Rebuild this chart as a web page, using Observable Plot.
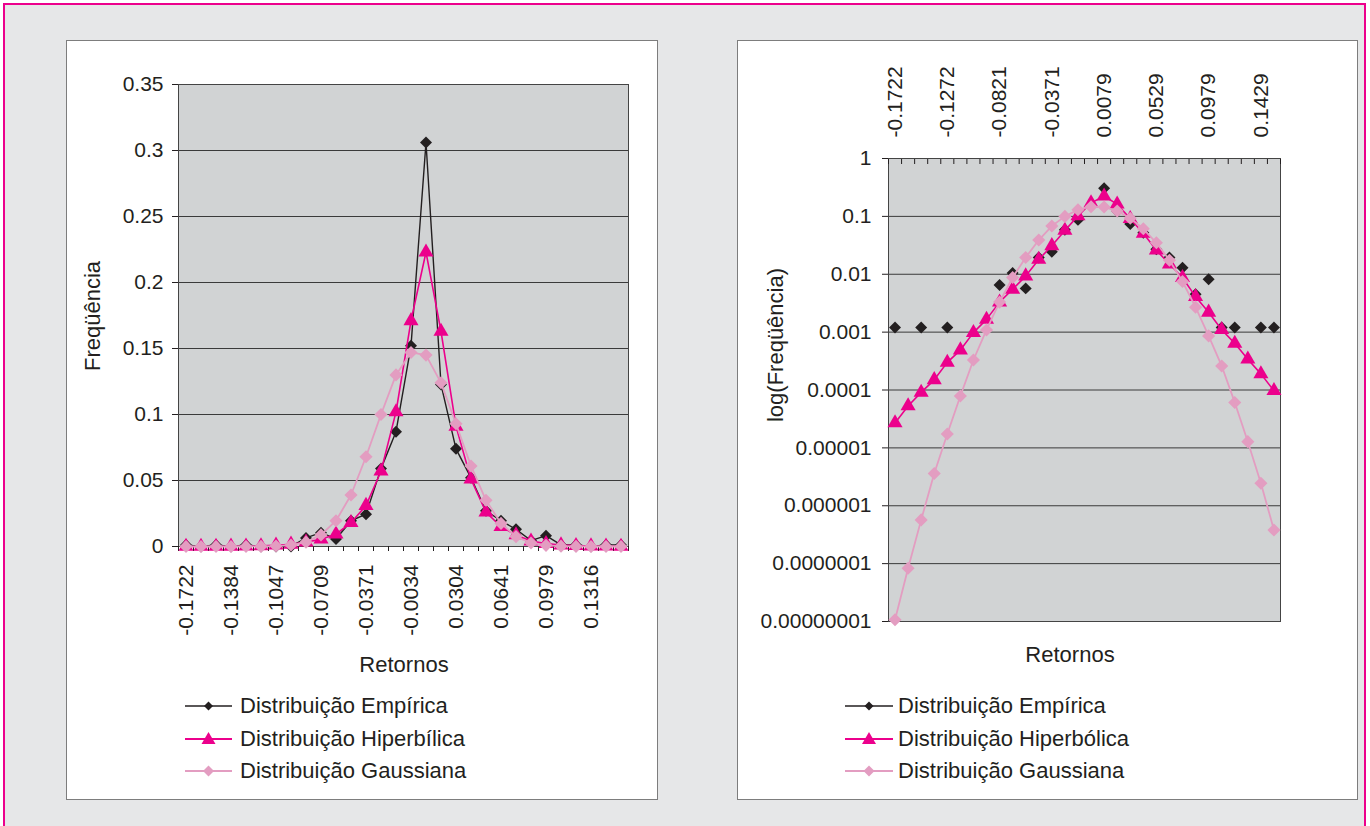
<!DOCTYPE html>
<html>
<head>
<meta charset="utf-8">
<script src="https://cdn.jsdelivr.net/npm/d3@7"></script>
<script src="https://cdn.jsdelivr.net/npm/@observablehq/plot@0.6"></script>
<style>
  body { margin: 0; background: #ffffff; font-family: "Liberation Sans", Arial, sans-serif; color: #231f20; }
  #moldura { position: absolute; left: 3px; top: 3px; width: 1363px; height: 840px; border: 2px solid #ec008c; background: #e6e7e8; box-sizing: border-box; }
  .painel { position: absolute; background: #ffffff; border: 1px solid #7d7d7d; box-sizing: border-box; }
  .grafico { position: absolute; }
  .titulo { position: absolute; font-size: 22px; white-space: nowrap; transform: translate(-50%, -50%); }
  .rot { transform: translate(-50%, -50%) rotate(-90deg); }
  .legenda { position: absolute; font-size: 22px; }
  .linha { display: flex; align-items: center; height: 32.5px; white-space: nowrap; }
</style>
</head>
<body>
<div id="moldura"></div>
<div class="painel" style="left:66px;top:40px;width:592px;height:760px"></div>
<div class="painel" style="left:737px;top:40px;width:621px;height:760px"></div>
<div id="g1" class="grafico" style="left:66px;top:40px"></div>
<div id="g2" class="grafico" style="left:737px;top:40px"></div>
<div class="titulo rot" style="left:93px;top:316px">Freqüência</div>
<div class="titulo rot" style="left:776px;top:345px">log(Freqüência)</div>
<div class="titulo" style="left:404px;top:665px">Retornos</div>
<div class="titulo" style="left:1070px;top:655px">Retornos</div>
<div id="leg1" class="legenda" style="left:185px;top:690px"></div>
<div id="leg2" class="legenda" style="left:845px;top:690px"></div>
<script>
// Categories (returns, bin centres)
const categorias = ["-0.1722","-0.1609","-0.1497","-0.1384","-0.1272","-0.1159","-0.1047","-0.0934","-0.0821","-0.0709",
  "-0.0596","-0.0484","-0.0371","-0.0259","-0.0146","-0.0034","0.0079","0.0191","0.0304","0.0416",
  "0.0529","0.0641","0.0754","0.0866","0.0979","0.1091","0.1204","0.1316","0.1429","0.1541"];

// Series values (frequencies)
const empirica = [0.0012,0,0.0012,0,0.0012,0,0,0,0.0065,0.0105,
  0.0057,0.0195,0.0245,0.059,0.087,0.152,0.306,0.1227,0.074,0.052,
  0.027,0.0195,0.013,0.0045,0.0082,0.0012,0.0012,0,0.0012,0.0012];
const hiperbolica = [2.7e-5,5.3e-5,9.1e-5,1.5e-4,3.0e-4,4.9e-4,9.8e-4,1.66e-3,3.3e-3,5.5e-3,
  9.3e-3,0.018,0.031,0.057,0.102,0.171,0.223,0.163,0.091,0.051,
  0.026,0.015,0.0087,0.0041,0.0022,0.0011,0.00064,0.00034,0.00019,9.7e-5];
const gaussiana = [1.07e-8,8.3e-8,5.7e-7,3.6e-6,1.74e-5,7.9e-5,3.3e-4,1.09e-3,3.3e-3,8.8e-3,
  0.0195,0.039,0.068,0.100,0.130,0.147,0.145,0.124,0.093,0.061,
  0.035,0.0175,0.0075,0.0027,8.6e-4,2.6e-4,6.1e-5,1.28e-5,2.45e-6,3.8e-7];

// Tick values / labels
const rotulosEsq = ["-0.1722","-0.1384","-0.1047","-0.0709","-0.0371","-0.0034","0.0304","0.0641","0.0979","0.1316"];
const rotulosDir = ["-0.1722","-0.1272","-0.0821","-0.0371","0.0079","0.0529","0.0979","0.1429"];
const ticksLin = [0, 0.05, 0.1, 0.15, 0.2, 0.25, 0.3, 0.35];
const ticksLog = [1, 0.1, 0.01, 0.001, 0.0001, 0.00001, 0.000001, 0.0000001, 0.00000001];
const rotulosLog = ["1","0.1","0.01","0.001","0.0001","0.00001","0.000001","0.0000001","0.00000001"];

// Legend
const seriesNomesEsq = ["Distribuição Empírica","Distribuição Hiperbílica","Distribuição Gaussiana"];
const seriesNomesDir = ["Distribuição Empírica","Distribuição Hiperbólica","Distribuição Gaussiana"];
const cores = ["#231f20", "#ec008c", "#e39dc1"];

const dados = categorias.map((c, i) => ({i, c, emp: empirica[i], hip: hiperbolica[i], gau: gaussiana[i]}));
const idx = new Map(categorias.map((c, i) => [c, i]));
const limites = d3.range(-0.5, categorias.length, 1);
const rotLog = new Map(ticksLog.map((t, k) => [t, rotulosLog[k]]));
const fonte = "'Liberation Sans', Arial, sans-serif";

const estilo = {background: "transparent", fontFamily: fonte, fontSize: "21px", color: "#231f20", overflow: "visible"};

function series(rows, incluiLinhaEmp) {
  const m = [];
  if (incluiLinhaEmp) m.push(Plot.line(rows, {x: "i", y: "emp", stroke: cores[0], strokeWidth: 1.4}));
  m.push(Plot.dot(rows.filter(d => incluiLinhaEmp || d.emp > 0), {x: "i", y: "emp", symbol: "diamond2", fill: cores[0], stroke: "none", r: 5.4}));
  m.push(Plot.line(rows, {x: "i", y: "hip", stroke: cores[1], strokeWidth: 1.6}));
  m.push(Plot.dot(rows, {x: "i", y: "hip", symbol: "triangle", fill: cores[1], stroke: "none", r: 5.6}));
  m.push(Plot.line(rows, {x: "i", y: "gau", stroke: cores[2], strokeWidth: 1.8}));
  m.push(Plot.dot(rows, {x: "i", y: "gau", symbol: "diamond2", fill: cores[2], stroke: "none", r: 5.9}));
  return m;
}

const g1 = Plot.plot({
  width: 592, height: 610,
  marginLeft: 112, marginRight: 30, marginTop: 44, marginBottom: 104,
  style: estilo,
  x: {type: "linear", domain: [-0.5, categorias.length - 0.5]},
  y: {domain: [0, 0.35]},
  marks: [
    Plot.frame({fill: "#d1d3d4", stroke: "none"}),
    Plot.ruleY(ticksLin.slice(1, -1), {stroke: "#3a3a3a", strokeWidth: 1}),
    Plot.frame({stroke: "#444", strokeWidth: 1}),
    Plot.axisY({ticks: ticksLin, tickFormat: d3.format("~g"), tickSize: 6, tickPadding: 9, label: null}),
    Plot.axisX({ticks: limites, tickFormat: () => "", tickSize: 5, label: null}),
    Plot.axisX({ticks: rotulosEsq.map(r => idx.get(r)), tickFormat: i => categorias[i], tickSize: 0, tickPadding: 18, tickRotate: -90, label: null}),
    ...series(dados, true)
  ]
});
document.getElementById("g1").appendChild(g1);

const g2 = Plot.plot({
  width: 621, height: 610,
  marginLeft: 151, marginRight: 78, marginTop: 118, marginBottom: 29,
  style: estilo,
  x: {type: "linear", domain: [-0.5, categorias.length - 0.5]},
  y: {type: "log", domain: [1e-8, 1]},
  marks: [
    Plot.frame({fill: "#d1d3d4", stroke: "none"}),
    Plot.ruleY(ticksLog.slice(1, -1), {stroke: "#3a3a3a", strokeWidth: 1}),
    Plot.frame({stroke: "#444", strokeWidth: 1}),
    Plot.axisY({ticks: ticksLog, tickFormat: d => rotLog.get(d), tickSize: 6, tickPadding: 11, label: null}),
    Plot.axisX({anchor: "top", ticks: limites, tickFormat: () => "", tickSize: -5, label: null}),
    Plot.axisX({anchor: "top", ticks: rotulosDir.map(r => idx.get(r)), tickFormat: i => categorias[i], tickSize: 0, tickPadding: 21, tickRotate: -90, label: null}),
    ...series(dados, false)
  ]
});
document.getElementById("g2").appendChild(g2);

function legenda(el, nomes, larg, gap) {
  const simb = [
    `<path d="M0,-4.5L4.5,0L0,4.5L-4.5,0Z" fill="${cores[0]}"/>`,
    `<path d="M0,-7L7,5L-7,5Z" fill="${cores[1]}"/>`,
    `<path d="M0,-5.5L5.5,0L0,5.5L-5.5,0Z" fill="${cores[2]}"/>`
  ];
  el.innerHTML = nomes.map((n, k) =>
    `<div class="linha"><svg width="${larg}" height="20" style="margin-right:${gap}px;overflow:visible">` +
    `<line x1="0" x2="${larg}" y1="10" y2="10" stroke="${cores[k]}" stroke-width="${k === 0 ? 1.4 : 1.8}"/>` +
    `<g transform="translate(${larg / 2},10)">${simb[k]}</g></svg><span>${n}</span></div>`
  ).join("");
}
legenda(document.getElementById("leg1"), seriesNomesEsq, 47, 8);
legenda(document.getElementById("leg2"), seriesNomesDir, 48, 5);
</script>
</body>
</html>
